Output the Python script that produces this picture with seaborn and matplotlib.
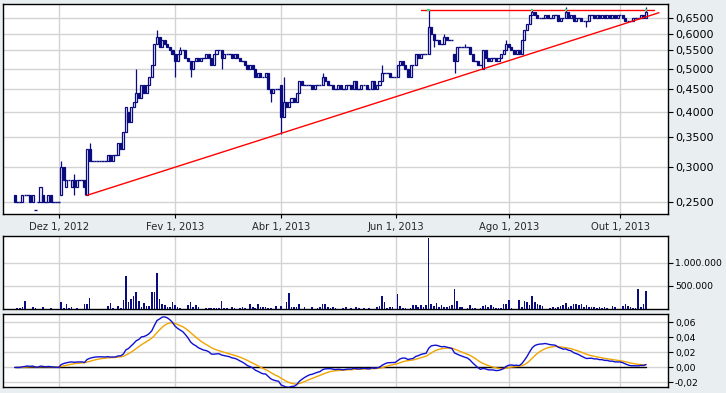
import numpy as np
import pandas as pd
import matplotlib
matplotlib.use("Agg")
import matplotlib.pyplot as plt
import seaborn as sns
from matplotlib.patches import Rectangle
from matplotlib.ticker import FixedLocator, FuncFormatter, NullLocator

# ---------------- data ----------------
first_day = "2012-11-07"
last_day = "2013-10-15"
axis_start = "2012-11-01"
axis_end = "2013-10-25"

# daily closes, one line per week (Mon..Fri)
closes = [
    0.25, 0.25, 0.25,
    0.26, 0.26, 0.26, 0.25, 0.26,
    0.24, 0.25, 0.27, 0.25, 0.25,
    0.26, 0.25, 0.25, 0.25, 0.25,
    0.30, 0.28, 0.28, 0.28, 0.28,
    0.27, 0.28, 0.28, 0.28, 0.27,
    0.33, 0.31, 0.31, 0.31, 0.31,
    0.31, 0.31, 0.31, 0.32, 0.31,
    0.32, 0.32, 0.34, 0.33, 0.36,
    0.41, 0.38, 0.41, 0.42, 0.44,
    0.43, 0.46, 0.44, 0.46, 0.48,
    0.51, 0.57, 0.59, 0.56, 0.58,
    0.57, 0.56, 0.55, 0.54, 0.52,
    0.54, 0.55, 0.55, 0.53, 0.52,
    0.50, 0.52, 0.53, 0.52, 0.53,
    0.53, 0.54, 0.53, 0.51, 0.54,
    0.55, 0.55, 0.53, 0.54, 0.54,
    0.54, 0.53, 0.54, 0.53, 0.52,
    0.52, 0.51, 0.50, 0.51, 0.50,
    0.48, 0.49, 0.48, 0.48, 0.49,
    0.45, 0.44, 0.45, 0.45, 0.45,
    0.39, 0.42, 0.41, 0.42, 0.43,
    0.42, 0.44, 0.47, 0.46, 0.46,
    0.46, 0.46, 0.45, 0.46, 0.46,
    0.46, 0.48, 0.47, 0.46, 0.46,
    0.45, 0.45, 0.46, 0.45, 0.45,
    0.46, 0.46, 0.45, 0.47, 0.45,
    0.45, 0.46, 0.46, 0.45, 0.45,
    0.47, 0.45, 0.46, 0.47, 0.49,
    0.49, 0.49, 0.48, 0.48, 0.48,
    0.51, 0.52, 0.51, 0.50, 0.48,
    0.51, 0.51, 0.54, 0.53, 0.54,
    0.54, 0.54, 0.62, 0.60, 0.58,
    0.58, 0.57, 0.57, 0.59, 0.58,
    0.58, 0.58, 0.52, 0.56, 0.56,
    0.56, 0.56, 0.56, 0.54, 0.52,
    0.52, 0.51, 0.51, 0.55, 0.53,
    0.52, 0.53, 0.53, 0.52, 0.53,
    0.54, 0.55, 0.57, 0.56, 0.55,
    0.54, 0.55, 0.54, 0.58, 0.61,
    0.63, 0.66, 0.67, 0.66, 0.65,
    0.65, 0.65, 0.66, 0.65, 0.65,
    0.66, 0.66, 0.64, 0.65, 0.65,
    0.67, 0.65, 0.66, 0.64, 0.65,
    0.65, 0.64, 0.64, 0.64, 0.66,
    0.66, 0.65, 0.66, 0.65, 0.66,
    0.65, 0.66, 0.65, 0.66, 0.65,
    0.66, 0.66, 0.65, 0.64, 0.64,
    0.64, 0.65, 0.65, 0.65, 0.66,
    0.65, 0.67,
]

# opens that differ from the previous close
open_gaps = {
    "2012-11-07": 0.26, "2012-11-19": 0.24, "2012-11-20": 0.25,
    "2012-11-22": 0.26, "2012-12-03": 0.26, "2012-12-05": 0.27,
    "2012-12-07": 0.27, "2012-12-17": 0.26, "2013-01-08": 0.40,
    "2013-04-01": 0.46, "2013-07-03": 0.54, "2013-07-18": 0.50,
}
high_wicks = {
    "2012-12-03": 0.31, "2012-12-10": 0.29, "2012-12-18": 0.34,
    "2013-01-11": 0.50, "2013-01-23": 0.61, "2013-02-05": 0.56,
    "2013-04-02": 0.48, "2013-04-23": 0.49, "2013-05-24": 0.51,
    "2013-06-19": 0.68, "2013-06-27": 0.60, "2013-07-09": 0.57,
    "2013-07-31": 0.58, "2013-08-14": 0.68, "2013-09-02": 0.69,
    "2013-10-15": 0.69,
}
low_wicks = {
    "2012-12-10": 0.26, "2012-12-14": 0.26, "2013-02-01": 0.48,
    "2013-02-11": 0.48, "2013-02-27": 0.50, "2013-03-26": 0.42,
    "2013-04-01": 0.357, "2013-06-21": 0.56, "2013-07-03": 0.49,
    "2013-09-12": 0.62,
}

# daily volume in thousands
volume_k = [
    0, 29, 21,
    50, 179, 0, 0, 50,
    29, 0, 0, 50, 0,
    0, 21, 0, 0, 0,
    157, 29, 114, 29, 36,
    0, 21, 0, 0, 100,
    114, 243, 0, 0, 0,
    0, 0, 0, 71, 136,
    29, 0, 64, 29, 200,
    714, 157, 214, 271, 371,
    179, 50, 136, 71, 71,
    357, 357, 779, 214, 100,
    86, 43, 43, 150, 86,
    43, 29, 0, 0, 86,
    150, 36, 79, 50, 0,
    0, 29, 29, 29, 29,
    29, 29, 179, 29, 29,
    0, 43, 29, 0, 29,
    36, 29, 0, 100, 36,
    21, 114, 36, 50, 36,
    21, 29, 0, 71, 0,
    64, 0, 143, 343, 36,
    36, 36, 100, 0, 36,
    0, 0, 50, 0, 29,
    50, 114, 100, 36, 29,
    36, 29, 0, 0, 29,
    36, 0, 29, 0, 50,
    29, 0, 21, 0, 21,
    0, 0, 50, 71, 286,
    157, 29, 36, 50, 0,
    329, 71, 29, 29, 0,
    29, 86, 86, 43, 86,
    36, 86, 1529, 100, 71,
    129, 50, 86, 36, 50,
    71, 86, 429, 171, 36,
    36, 0, 29, 86, 29,
    29, 0, 29, 71, 86,
    50, 86, 36, 29, 29,
    29, 100, 100, 200, 29,
    0, 0, 200, 36, 171,
    157, 86, 286, 157, 100,
    86, 71, 0, 0, 29,
    36, 29, 43, 57, 86,
    121, 50, 57, 100, 100,
    86, 114, 36, 86, 50,
    36, 36, 29, 36, 29,
    50, 29, 0, 71, 50,
    0, 0, 71, 100, 71,
    43, 29, 29, 429, 36,
    100, 393,
]

trend_dates = ["2012-12-17", "2013-10-22"]
trend_values = [0.259, 0.669]
resist_dates = ["2013-06-14", "2013-10-18"]
resist_values = [0.68, 0.68]

tick_dates = ["2012-12-01", "2013-02-01", "2013-04-01", "2013-06-01",
              "2013-08-01", "2013-10-01"]
tick_labels = ["Dez 1, 2012", "Fev 1, 2013", "Abr 1, 2013", "Jun 1, 2013",
               "Ago 1, 2013", "Out 1, 2013"]
price_ticks = [0.25, 0.30, 0.35, 0.40, 0.45, 0.50, 0.55, 0.60, 0.65]
volume_ticks = [500000, 1000000]
macd_ticks = [-0.02, 0.0, 0.02, 0.04, 0.06]

# ---------------- preparation ----------------
axis_days = pd.bdate_range(axis_start, axis_end)
days = pd.bdate_range(first_day, last_day)
assert len(days) == len(closes) == len(volume_k)
ax_ns = axis_days.values.astype("int64")


def pos(dates):
    d = pd.to_datetime(pd.Index(dates)).values.astype("int64")
    return np.interp(d, ax_ns, np.arange(len(axis_days), dtype=float))


xs = pos(days)
c = np.array(closes)
o = np.r_[c[0], c[:-1]].copy()
day_str = [d.strftime("%Y-%m-%d") for d in days]
idx = {s: i for i, s in enumerate(day_str)}
for k, v in open_gaps.items():
    o[idx[k]] = v
h = np.maximum(o, c)
l = np.minimum(o, c)
for k, v in high_wicks.items():
    h[idx[k]] = max(h[idx[k]], v)
for k, v in low_wicks.items():
    l[idx[k]] = min(l[idx[k]], v)

s = pd.Series(c)
macd = s.ewm(span=12, adjust=False).mean() - s.ewm(span=26, adjust=False).mean()
signal = macd.ewm(span=9, adjust=False).mean()

df_macd = pd.DataFrame({"x": xs, "macd": macd.values, "signal": signal.values})

# ---------------- style ----------------
sns.set_theme(style="white")
plt.rcParams["font.family"] = ["DejaVu Sans"]
plt.rcParams["font.size"] = 7

NAVY = "#0b0b80"
BG = "#e9eef1"
GRID = "#d3d3d3"

W, H = 726, 393
fig = plt.figure(figsize=(W / 100, H / 100), dpi=100, facecolor=BG)


def axes_px(left, top, right, bottom):
    return fig.add_axes([left / W, 1 - bottom / H, (right - left) / W, (bottom - top) / H])


ax1 = axes_px(3, 4, 668, 214)
ax2 = axes_px(3, 236, 668, 309)
ax3 = axes_px(3, 314, 668, 387)

xlim = (-0.5, len(axis_days) - 0.5)
tick_pos = pos(tick_dates)

label_sizes = {ax1: 8, ax2: 6.7, ax3: 6.7}
for ax in (ax1, ax2, ax3):
    ax.set_facecolor("white")
    ax.set_xlim(*xlim)
    for sp in ax.spines.values():
        sp.set_color("black")
        sp.set_linewidth(1.0)
    ax.xaxis.set_major_locator(FixedLocator(tick_pos))
    ax.grid(True, color=GRID, linewidth=1.0)
    ax.set_axisbelow(True)
    ax.yaxis.tick_right()
    ax.tick_params(axis="y", which="major", direction="out", length=3.5,
                   width=0.8, color="black", pad=1.5, labelsize=label_sizes[ax],
                   labelcolor="black", right=True, left=False)
    ax.yaxis.set_minor_locator(NullLocator())

ax1.tick_params(axis="x", direction="out", length=3, width=0.8, color="black",
                pad=3, labelsize=7.2, bottom=True)
ax1.set_xticklabels(tick_labels)
for ax in (ax2, ax3):
    ax.tick_params(axis="x", length=0, labelbottom=False)

# ---------------- price panel ----------------
ax1.set_yscale("log")
ax1.set_ylim(0.235, 0.70)
ax1.yaxis.set_major_locator(FixedLocator(price_ticks))
ax1.yaxis.set_minor_locator(NullLocator())
ax1.yaxis.set_major_formatter(FuncFormatter(lambda v, p: f"{v:.4f}".replace(".", ",")))

bw = 0.8
ax1.vlines(xs, l, h, color=NAVY, linewidth=0.9, zorder=3)
for xi, oi, ci in zip(xs, o, c):
    if abs(ci - oi) < 1e-9:
        ax1.hlines(ci, xi - 0.5, xi + 0.5, color=NAVY, linewidth=1.0, zorder=3)
    else:
        lo, hi = min(oi, ci), max(oi, ci)
        fc = "white" if ci > oi else NAVY
        ax1.add_patch(Rectangle((xi - bw / 2, lo), bw, hi - lo, facecolor=fc,
                                edgecolor=NAVY, linewidth=0.9, zorder=4))

ax1.plot(pos(trend_dates), trend_values, color="#ff0000", linewidth=1.0, zorder=5)
ax1.plot(pos(resist_dates), resist_values, color="#ff0000", linewidth=1.0, zorder=5)
touch = h >= 0.68
ax1.hlines(np.full(touch.sum(), 0.68), xs[touch] - 0.45, xs[touch] + 0.45,
           color="#2ee07a", linewidth=1.6, zorder=6)

# ---------------- volume panel ----------------
vol = np.array(volume_k) * 1000.0
ax2.bar(xs, vol, width=0.62, color=NAVY, linewidth=0, zorder=3)
ax2.set_ylim(0, 1.575e6)
ax2.yaxis.set_major_locator(FixedLocator(volume_ticks))
ax2.yaxis.set_major_formatter(FuncFormatter(lambda v, p: f"{int(v):,}".replace(",", ".")))

# ---------------- MACD panel ----------------
ax3.plot([xs[0], xs[-1]], [0, 0], color="black", linewidth=1.0, zorder=3)
sns.lineplot(data=df_macd, x="x", y="signal", ax=ax3, color="#f0a500",
             linewidth=1.0, zorder=4)
sns.lineplot(data=df_macd, x="x", y="macd", ax=ax3, color="#1010d0",
             linewidth=1.0, zorder=5)
ax3.set_ylim(-0.026, 0.071)
ax3.yaxis.set_major_locator(FixedLocator(macd_ticks))
ax3.yaxis.set_major_formatter(FuncFormatter(
    lambda v, p: f"{v:.2f}".replace(".", ",").replace("-0,00", "0,00")))
ax3.set_xlim(*xlim)

for ax in (ax1, ax2, ax3):
    ax.set_xlabel("")
    ax.set_ylabel("")

fig.savefig("out.png", dpi=100, facecolor=BG)
